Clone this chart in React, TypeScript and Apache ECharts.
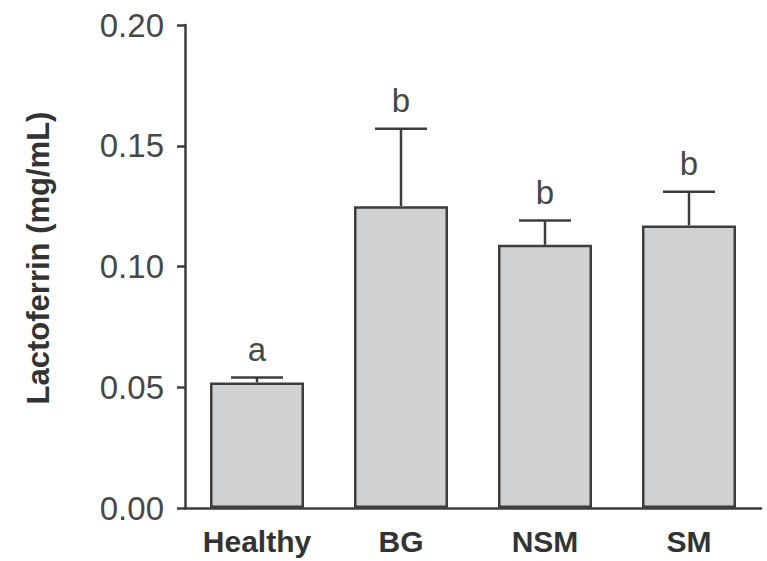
import React, { useEffect, useRef } from "react";
import * as echarts from "echarts";

const categories = ["Healthy", "BG", "NSM", "SM"];
const means = [0.052, 0.125, 0.109, 0.117];
const upperErrors = [0.002, 0.032, 0.010, 0.014];
const letters = ["a", "b", "b", "b"];
const yTicks = { min: 0, max: 0.2, interval: 0.05 };
const yTitle = "Lactoferrin (mg/mL)";

const FONT = "'Liberation Sans', Arial, Helvetica, sans-serif";
const INK = "#3d3d3d";

export default function App() {
  const ref = useRef<HTMLDivElement>(null);
  useEffect(() => {
    document.body.style.margin = "0";
    const chart = echarts.init(ref.current!, null, { renderer: "svg" });
    chart.setOption({
      animation: false,
      backgroundColor: "#ffffff",
      grid: { left: 185, right: 6, top: 25, bottom: 53, containLabel: false },
      xAxis: {
        type: "category",
        data: categories,
        axisLine: { lineStyle: { color: INK, width: 2.5 } },
        axisTick: { alignWithLabel: true, length: 10, lineStyle: { color: INK, width: 2.5 } },
        axisLabel: {
          margin: 18,
          color: "#333333",
          fontFamily: FONT,
          fontWeight: "bold",
          fontSize: 30,
        },
      },
      yAxis: {
        type: "value",
        min: yTicks.min,
        max: yTicks.max,
        interval: yTicks.interval,
        splitLine: { show: false },
        axisLine: { show: true, lineStyle: { color: INK, width: 2.5 } },
        axisTick: { show: true, length: 8, lineStyle: { color: INK, width: 2.5 } },
        axisLabel: {
          margin: 21,
          color: "#474747",
          fontFamily: FONT,
          fontSize: 33,
          formatter: (v: number) => v.toFixed(2),
        },
      },
      graphic: [
        {
          type: "text",
          x: 38,
          y: 258,
          rotation: Math.PI / 2,
          style: {
            text: yTitle,
            font: `bold 31px ${FONT}`,
            fill: "#333333",
            align: "center",
            verticalAlign: "middle",
          },
        },
      ],
      series: [
        {
          type: "bar",
          data: means,
          barWidth: 94,
          itemStyle: { color: "#d0d1d3", borderColor: INK, borderWidth: 2.5 },
          z: 2,
        },
        {
          type: "custom",
          z: 3,
          data: means.map((m, i) => [i, m, upperErrors[i]]),
          encode: { x: 0, y: 1 },
          renderItem: (params: any, api: any) => {
            const i = api.value(0);
            const m = api.value(1);
            const e = api.value(2);
            const base = api.coord([i, m]);
            const top = api.coord([i, m + e]);
            const half = 26;
            return {
              type: "group",
              children: [
                {
                  type: "line",
                  shape: { x1: base[0], y1: base[1], x2: top[0], y2: top[1] },
                  style: { stroke: INK, lineWidth: 2.5 },
                },
                {
                  type: "line",
                  shape: { x1: top[0] - half, y1: top[1], x2: top[0] + half, y2: top[1] },
                  style: { stroke: INK, lineWidth: 2.5 },
                },
                {
                  type: "text",
                  x: top[0],
                  y: top[1] - 12,
                  style: {
                    text: letters[params.dataIndex],
                    font: `33px ${FONT}`,
                    fill: "#474747",
                    align: "center",
                    verticalAlign: "bottom",
                  },
                },
              ],
            };
          },
        },
      ],
    });
    return () => chart.dispose();
  }, []);
  return <div ref={ref} style={{ position: "fixed", left: 0, top: 0, width: 767, height: 561 }} />;
}
